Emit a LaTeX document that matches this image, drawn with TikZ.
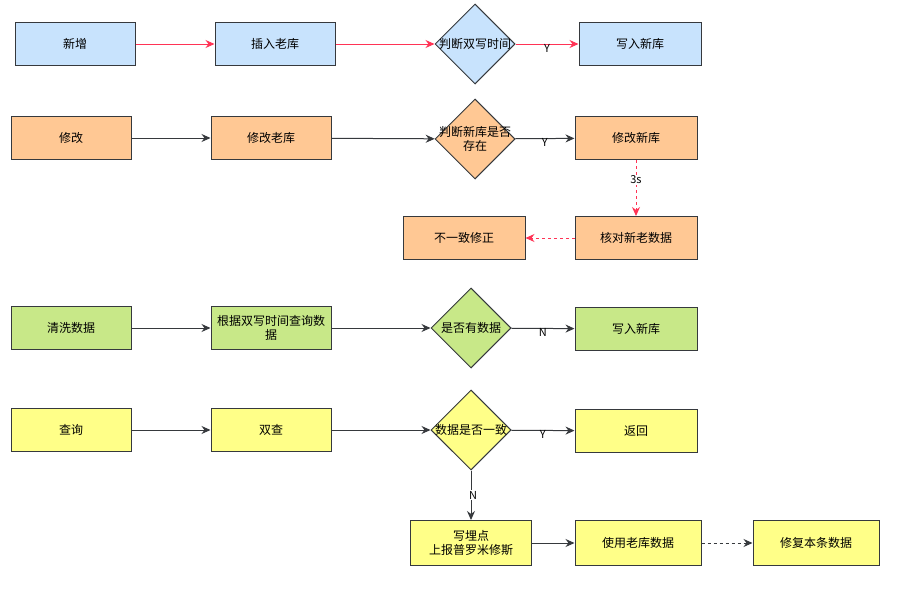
\documentclass[tikz,border=0pt]{standalone}
\usepackage{fontspec}
\setmainfont{Noto Sans CJK SC}
\usetikzlibrary{shapes.geometric,arrows.meta,positioning}
\definecolor{boxblue}{RGB}{200,227,253}
\definecolor{boxorange}{RGB}{255,200,148}
\definecolor{boxgreen}{RGB}{200,232,136}
\definecolor{boxyellow}{RGB}{255,255,136}
\definecolor{edgegray}{RGB}{54,57,61}
\definecolor{linered}{RGB}{255,51,85}

\begin{document}
\begin{tikzpicture}[x=1pt, y=-1pt,
  box/.style={draw=edgegray, line width=1pt, rectangle, minimum width=120pt, minimum height=43pt, align=center, font=\fontsize{12}{14}\selectfont},
  dia/.style={draw=edgegray, line width=1pt, diamond, minimum width=80pt, minimum height=80pt, inner sep=0pt, label={[align=center, font=\fontsize{12}{14}\selectfont]center:#1}},
  arr/.style={-{Stealth[length=9pt, width=8pt]}, line width=1pt, draw=edgegray},
  redarr/.style={arr, draw=linered},
  lbl/.style={font=\fontsize{11}{13}\selectfont, inner sep=1pt}
]
\useasboundingbox (0,0) rectangle (922,589);

% 新增
\node[box, fill=boxblue] (add) at (75,44) {新增};
\node[box, fill=boxblue] (addOld) at (275,44) {插入老库};
\node[dia=判断双写时间, fill=boxblue] (addCheck) at (475,44) {};
\node[box, fill=boxblue, minimum width=122pt] (addNew) at (640,44) {写入新库};

\draw[redarr] (add) -- (addOld);
\draw[redarr] (addOld) -- (addCheck);
\draw[redarr] (addCheck) -- node[lbl, midway, yshift=-4pt] {Y} (addNew);

% 修改
\node[box, fill=boxorange] (mod) at (71,138) {修改};
\node[box, fill=boxorange] (modOld) at (271,138) {修改老库};
\node[dia={判断新库是否\\存在}, fill=boxorange] (modCheck) at (475,139) {};
\node[box, fill=boxorange, minimum width=122pt] (modNew) at (636,138) {修改新库};
\node[box, fill=boxorange, minimum width=122pt] (modVerify) at (636,238) {核对新老数据};
\node[box, fill=boxorange, minimum width=122pt] (modFix) at (464,238) {不一致修正};

\draw[arr] (mod) -- (modOld);
\draw[arr] (modOld) -- (modCheck);
\draw[arr] (modCheck) -- node[lbl, midway, yshift=-4pt] {Y} (modNew);
\draw[redarr, dashed] (modNew) -- node[lbl, fill=white, pos=0.35] {3s} (modVerify);
\draw[redarr, dashed] (modVerify) -- (modFix);

% 清洗数据
\node[box, fill=boxgreen] (clean) at (71,328) {清洗数据};
\node[box, fill=boxgreen] (cleanQuery) at (271,328) {根据双写时间查询数\\据};
\node[dia=是否有数据, fill=boxgreen] (cleanCheck) at (471,328) {};
\node[box, fill=boxgreen, minimum width=122pt] (cleanNew) at (636,329) {写入新库};

\draw[arr] (clean) -- (cleanQuery);
\draw[arr] (cleanQuery) -- (cleanCheck);
\draw[arr] (cleanCheck) -- node[lbl, midway, yshift=-4pt] {N} (cleanNew);

% 查询
\node[box, fill=boxyellow] (query) at (71,430) {查询};
\node[box, fill=boxyellow] (queryBoth) at (271,430) {双查};
\node[dia=数据是否一致, fill=boxyellow] (queryCheck) at (471,430) {};
\node[box, fill=boxyellow, minimum width=122pt] (queryRet) at (636,431) {返回};
\node[box, fill=boxyellow, minimum width=121pt, minimum height=45pt] (queryLog) at (471,543) {写埋点\\上报普罗米修斯};
\node[box, fill=boxyellow, minimum width=126pt, minimum height=45pt] (queryOld) at (638,543) {使用老库数据};
\node[box, fill=boxyellow, minimum width=126pt, minimum height=45pt] (queryFix) at (816,543) {修复本条数据};

\draw[arr] (query) -- (queryBoth);
\draw[arr] (queryBoth) -- (queryCheck);
\draw[arr] (queryCheck) -- node[lbl, midway, yshift=-4pt] {Y} (queryRet);
\draw[arr] (queryCheck) -- node[lbl, fill=white, midway, xshift=2pt] {N} (queryLog);
\draw[arr] (queryLog) -- (queryOld);
\draw[arr, dash pattern=on 3pt off 3pt] (queryOld) -- (queryFix);
\end{tikzpicture}
\end{document}
